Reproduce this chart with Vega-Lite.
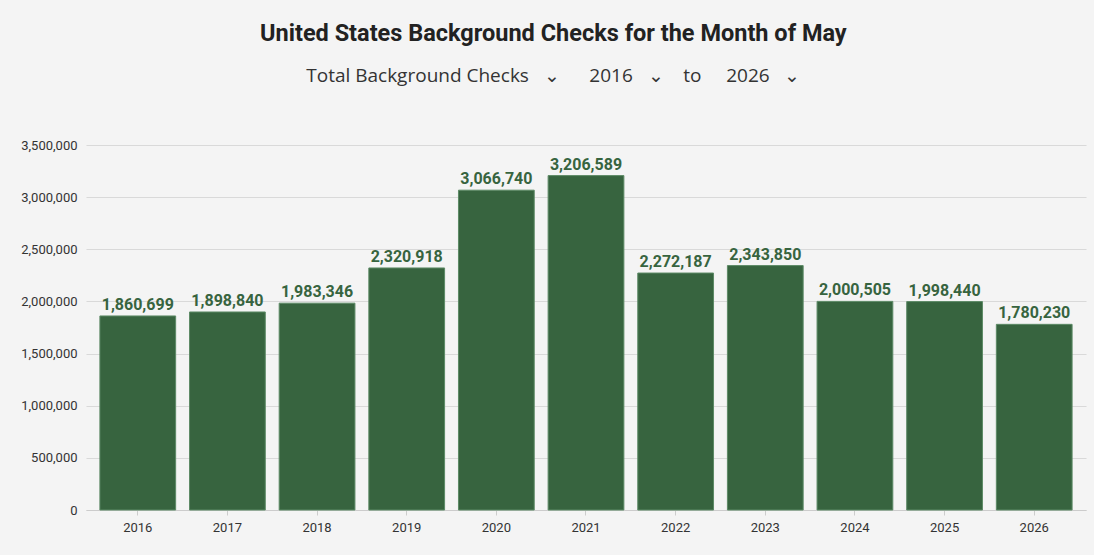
{
  "$schema": "https://vega.github.io/schema/vega-lite/v6.json",
  "width": 1000,
  "height": 365,
  "autosize": {"type": "none"},
  "padding": {"left": 86, "top": 145, "right": 8, "bottom": 45},
  "background": "#f4f4f4",
  "title": {
    "text": "United States Background Checks for the Month of May",
    "subtitle": "Total Background Checks\u00a0\u00a0\u00a0⌄\u00a0\u00a0\u00a0\u00a0\u00a0\u00a02016\u00a0\u00a0\u00a0⌄\u00a0\u00a0\u00a0\u00a0to\u00a0\u00a0\u00a0\u00a0\u00a02026\u00a0\u00a0\u00a0⌄",
    "anchor": "middle",
    "frame": "bounds",
    "font": "Roboto",
    "fontSize": 23.5,
    "fontWeight": "bold",
    "color": "#222222",
    "subtitleFont": "Open Sans",
    "subtitleFontSize": 19,
    "subtitleColor": "#333333",
    "subtitlePadding": 22,
    "offset": 53
  },
  "data": {
    "values": [
      {"year": "2016", "checks": 1860699},
      {"year": "2017", "checks": 1898840},
      {"year": "2018", "checks": 1983346},
      {"year": "2019", "checks": 2320918},
      {"year": "2020", "checks": 3066740},
      {"year": "2021", "checks": 3206589},
      {"year": "2022", "checks": 2272187},
      {"year": "2023", "checks": 2343850},
      {"year": "2024", "checks": 2000505},
      {"year": "2025", "checks": 1998440},
      {"year": "2026", "checks": 1780230}
    ]
  },
  "encoding": {
    "x": {
      "field": "year",
      "type": "ordinal",
      "title": null,
      "scale": {"paddingInner": 0.155, "paddingOuter": 0.155},
      "axis": {
        "labelAngle": 0,
        "labelFont": "Roboto",
        "labelFontSize": 13,
        "labelFontWeight": "normal",
        "labelColor": "#333333",
        "labelPadding": 6,
        "domainColor": "#cccccc",
        "tickColor": "#cccccc",
        "tickSize": 5,
        "grid": false
      }
    },
    "y": {
      "field": "checks",
      "type": "quantitative",
      "title": null,
      "scale": {"domain": [0, 3500000], "nice": false},
      "axis": {
        "values": [0, 500000, 1000000, 1500000, 2000000, 2500000, 3000000, 3500000],
        "format": ",d",
        "labelFont": "Roboto",
        "labelFontSize": 13,
        "labelFontWeight": "normal",
        "labelColor": "#333333",
        "labelPadding": 9,
        "domain": false,
        "ticks": false,
        "gridColor": "#d9d9d9",
        "gridWidth": 1
      }
    }
  },
  "layer": [
    {
      "mark": {"type": "bar", "color": "#37643f", "stroke": "#5d8a66", "strokeWidth": 1}
    },
    {
      "mark": {"type": "text", "baseline": "bottom", "dy": -3, "font": "Roboto", "fontSize": 16, "fontWeight": "bold", "color": "#37643f"},
      "encoding": {"text": {"field": "checks", "type": "quantitative", "format": ",d"}}
    }
  ],
  "config": {"view": {"stroke": null}}
}
